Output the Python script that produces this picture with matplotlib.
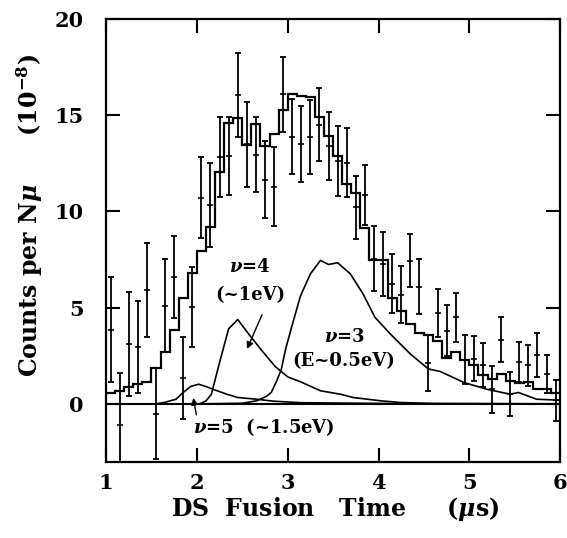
import numpy as np
import matplotlib
matplotlib.use('Agg')
import matplotlib.pyplot as plt

plt.rcParams['font.family'] = 'DejaVu Serif'
plt.rcParams['font.weight'] = 'bold'
plt.rcParams['axes.labelweight'] = 'bold'
plt.rcParams['mathtext.fontset'] = 'dejavuserif'

# histogram (sum of fit), 0.1 us bins from 1.0 to 6.0
bin_edges = np.round(np.arange(1.0, 6.01, 0.1), 2)
hist_vals = [0.54, 0.68, 0.85, 1.03, 1.16, 1.84, 2.71, 3.85, 5.5, 6.79,
             7.93, 9.2, 12.05, 14.6, 14.86, 13.47, 14.53, 13.4, 14.01, 15.26,
             16.09, 15.99, 15.93, 14.91, 13.92, 12.88, 11.41, 10.95, 9.15, 7.45,
             7.48, 5.49, 4.84, 4.15, 3.66, 3.58, 3.28, 2.38, 2.67, 2.28,
             2.03, 1.51, 1.29, 1.55, 1.2, 1.06, 1.15, 0.76, 0.76, 0.54]

# measured points with errors at bin centres
data_x = np.round(np.arange(1.05, 6.0, 0.1), 2)
data_y = [3.84, -1.1, 3.11, 2.97, 5.92, -0.52, 5.1, 6.58, 1.33, 5.03,
          10.71, 10.33, 12.8, 12.86, 16.04, 13.49, 12.93, 11.65, 11.27, 16.09,
          13.87, 13.51, 13.87, 14.51, 13.4, 12.62, 12.52, 10.21, 10.85, 7.53,
          7.26, 6.25, 5.68, 7.43, 6.08, 2.12, 4.7, 3.8, 4.49, 2.3,
          2.35, 2.0, 0.75, 3.33, 0.5, 2.15, 2.0, 2.53, 1.55, 0.18]
data_err = [2.73, 2.72, 2.72, 2.39, 2.43, 2.37, 2.4, 2.14, 2.13, 2.07,
            2.1, 2.17, 2.08, 2.03, 2.17, 2.2, 1.95, 1.98, 2.05, 1.95,
            1.95, 1.98, 1.92, 1.9, 1.78, 1.8, 1.8, 1.63, 1.58, 1.69,
            1.66, 1.55, 1.47, 1.37, 1.42, 1.44, 1.24, 1.34, 1.26, 1.29,
            1.15, 1.15, 1.2, 1.18, 1.13, 1.04, 1.07, 1.13, 0.97, 1.07]

# simulated components
nu3_x = [2.0, 2.5, 2.66, 2.77, 2.82, 2.88, 2.93, 2.98, 3.05, 3.14, 3.25, 3.36, 3.45,
         3.55, 3.69, 3.83, 3.96, 4.13, 4.35, 4.55, 4.68, 4.94, 5.19, 5.45, 5.54,
         5.74, 6.0]
nu3_y = [0.0, 0.03, 0.16, 0.4, 0.6, 1.2, 1.8, 2.9, 4.1, 5.6, 6.75, 7.45, 7.24,
         7.33, 6.75, 5.71, 4.5, 3.63, 2.59, 1.81, 1.68, 1.11, 0.76, 0.5, 0.59,
         0.24, 0.19]
nu4_x = [1.0, 2.03, 2.1, 2.16, 2.255, 2.35, 2.45, 2.57, 2.71, 2.86, 3.0, 3.14,
         3.36, 3.58, 3.72, 4.02, 4.24, 4.6, 6.0]
nu4_y = [0.0, 0.0, 0.15, 0.5, 2.24, 3.9, 4.38, 3.63, 2.8, 1.95, 1.4, 1.15,
         0.68, 0.5, 0.33, 0.16, 0.07, 0.02, 0.0]
nu5_x = [1.0, 1.55, 1.65, 1.77, 1.85, 1.93, 2.02, 2.1, 2.2, 2.33, 2.45, 2.66,
         2.84, 3.14, 3.6, 4.3, 6.0]
nu5_y = [0.0, 0.0, 0.08, 0.24, 0.59, 0.9, 1.02, 0.9, 0.72, 0.5, 0.33, 0.24,
         0.14, 0.06, 0.04, 0.01, 0.0]

fig = plt.figure(figsize=(5.67, 5.38), dpi=100)
ax = fig.add_axes([0.187, 0.142, 0.801, 0.823])

ax.stairs(hist_vals, bin_edges, color='black', lw=1.6, baseline=None)
ax.errorbar(data_x, data_y, yerr=data_err, fmt='none', ecolor='black',
            elinewidth=1.3, capsize=2.5, capthick=1.3)
ax.plot(data_x, data_y, ls='none', marker='_', ms=5, mew=1.2, color='black')

ax.plot(nu3_x, nu3_y, color='black', lw=1.2)
ax.plot(nu4_x, nu4_y, color='black', lw=1.2)
ax.plot(nu5_x, nu5_y, color='black', lw=1.2)
ax.axhline(0, color='black', lw=1.5)

ax.text(2.585, 7.1, r'$\nu$=4', ha='center', va='center', fontsize=13)
ax.text(2.585, 5.63, '(~1eV)', ha='center', va='center', fontsize=13)
ax.annotate('', xy=(2.54, 2.72), xytext=(2.73, 4.76),
            arrowprops=dict(arrowstyle='-|>', color='black', lw=1.0,
                            mutation_scale=10))
ax.text(3.62, 3.45, r'$\nu$=3', ha='center', va='center', fontsize=13)
ax.text(3.62, 2.2, '(E~0.5eV)', ha='center', va='center', fontsize=13)
ax.text(1.955, -1.23, r'$\nu$=5  (~1.5eV)', ha='left', va='center', fontsize=13)
ax.annotate('', xy=(1.955, 0.45), xytext=(2.0, -0.71),
            arrowprops=dict(arrowstyle='-|>', color='black', lw=1.0,
                            mutation_scale=10))

ax.set_xlim(1, 6)
ax.set_ylim(-3, 20)
ax.set_xticks([1, 2, 3, 4, 5, 6])
ax.set_yticks([0, 5, 10, 15, 20])
ax.tick_params(direction='in', length=10, width=1.5, top=True, right=True,
               labelsize=15)
ax.tick_params(axis='x', pad=8)
ax.tick_params(axis='y', pad=16)
for s in ax.spines.values():
    s.set_linewidth(1.6)

ax.set_xlabel(r'DS  Fusion   Time     ($\mu$s)', fontsize=17)
ax.xaxis.set_label_coords(0.504, -0.075)
ax.set_ylabel(r'Counts per N$\mu$      (10$^{-8}$)', fontsize=17)
ax.yaxis.set_label_coords(-0.135, 0.555)

plt.savefig('out.png', dpi=100)
